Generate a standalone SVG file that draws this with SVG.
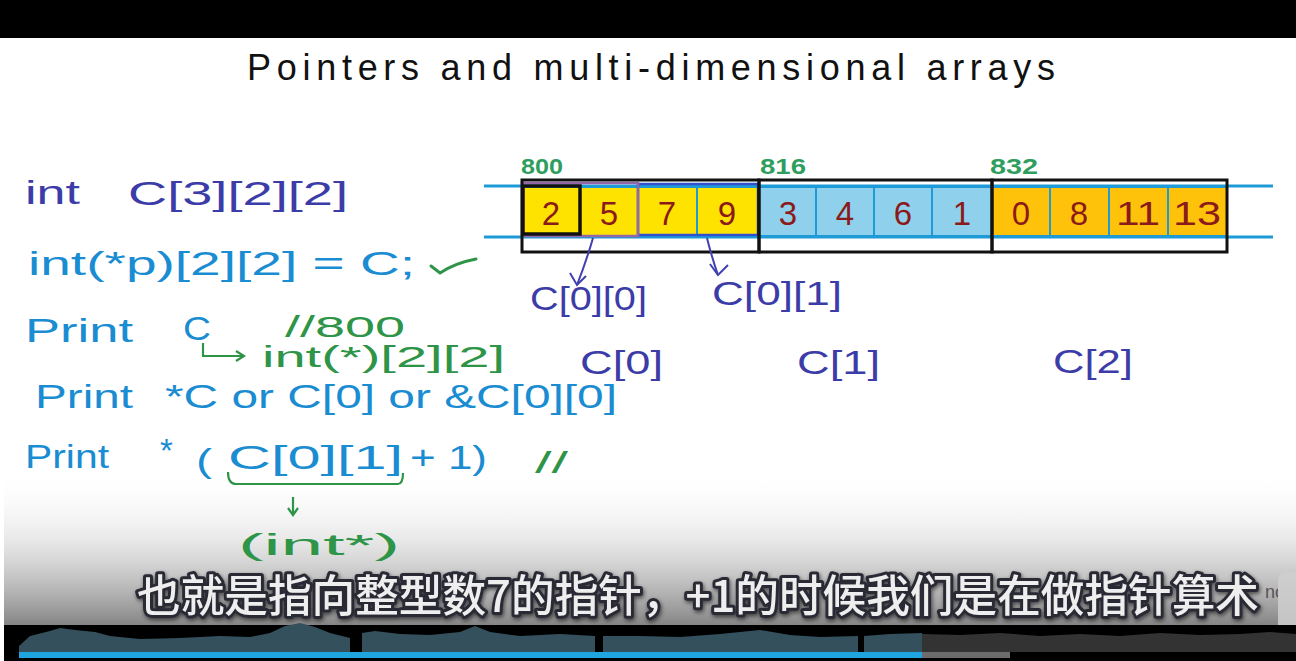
<svg xmlns="http://www.w3.org/2000/svg" width="1296" height="661" viewBox="0 0 1296 661">
<style>
.hw{font-family:"Liberation Sans","DejaVu Sans",sans-serif;}
.ttl{font-size:36px;fill:#111;}
.ind{font-size:33px;fill:#3C3CA8;}
.cy{font-size:33px;fill:#1A8CD2;}
.gr{font-size:30px;fill:#2E9447;}
.addr{font-size:22px;fill:#2E9E5E;font-weight:bold;}
.dig{font-size:33px;fill:#8B1A1A;text-anchor:middle;}
.box{fill:none;stroke:#111;stroke-width:3;}
.bl{stroke:#1E9BD7;stroke-width:3;}
.cellY{fill:#FFE300;stroke:#1E9BD7;stroke-width:2;}
.cellB{fill:#8FD0EC;stroke:#1E9BD7;stroke-width:2;}
.cellO{fill:#FFC20A;stroke:#1E9BD7;stroke-width:2;}
.arrB{fill:none;stroke:#4040B0;stroke-width:2;}
.arrG{fill:none;stroke:#2E9447;stroke-width:2.2;}
.sub{font-family:"Noto Sans CJK SC","Noto Sans",sans-serif;font-size:44px;fill:#EEEEEE;stroke:#2A2A36;stroke-width:6;paint-order:stroke;stroke-linejoin:round;font-weight:500;}
</style>
<defs>
<linearGradient id="fade" x1="0" y1="0" x2="0" y2="1">
<stop offset="0" stop-color="#ffffff" stop-opacity="0"/>
<stop offset="0.45" stop-color="#d9d9d9" stop-opacity="0.6"/>
<stop offset="1" stop-color="#858585"/>
</linearGradient>
<filter id="sh" x="-5%" y="-40%" width="110%" height="180%">
<feDropShadow dx="1" dy="2" stdDeviation="2" flood-color="#000" flood-opacity="0.6"/>
</filter>
<clipPath id="nodclip"><rect x="1250" y="570" width="28" height="40"/></clipPath>
</defs>

<!-- background frame -->
<rect x="0" y="0" width="1296" height="661" fill="#ffffff"/>
<rect x="0" y="0" width="1296" height="38" fill="#000"/>
<rect x="4" y="470" width="1292" height="155" fill="url(#fade)"/>

<!-- title -->
<g id="title">
<text class="hw ttl" x="247" y="80" textLength="808" lengthAdjust="spacing">Pointers and multi-dimensional arrays</text>
</g>

<!-- array -->
<g id="array">
<line class="bl" x1="484" y1="186" x2="1273" y2="186"/>
<line class="bl" x1="484" y1="237" x2="1273" y2="237"/>
<rect class="cellY" x="522" y="187" width="58" height="49"/>
<rect class="cellY" x="580" y="187" width="58" height="49"/>
<rect class="cellY" x="638" y="187" width="59" height="49"/>
<rect class="cellY" x="697" y="187" width="61" height="49"/>
<rect class="cellB" x="759" y="187" width="57" height="49"/>
<rect class="cellB" x="816" y="187" width="58" height="49"/>
<rect class="cellB" x="874" y="187" width="58" height="49"/>
<rect class="cellB" x="932" y="187" width="60" height="49"/>
<rect class="cellO" x="992" y="187" width="58" height="49"/>
<rect class="cellO" x="1050" y="187" width="59" height="49"/>
<rect class="cellO" x="1109" y="187" width="59" height="49"/>
<rect class="cellO" x="1168" y="187" width="59" height="49"/>
<rect x="638" y="184" width="120" height="51" fill="none" stroke="#3050D0" stroke-width="2.5"/>
<rect x="522" y="183" width="116" height="53" fill="none" stroke="#9468A8" stroke-width="2.5"/>
<rect x="523" y="186" width="57" height="48" fill="none" stroke="#111" stroke-width="3.5"/>
<rect class="box" x="522" y="180" width="237" height="72"/>
<rect class="box" x="759" y="180" width="233" height="72"/>
<rect class="box" x="992" y="180" width="235" height="72"/>
<g class="hw dig">
<text x="551" y="225">2</text>
<text x="609" y="225">5</text>
<text x="667" y="225">7</text>
<text x="727" y="225">9</text>
<text x="788" y="225">3</text>
<text x="845" y="225">4</text>
<text x="903" y="225">6</text>
<text x="962" y="225">1</text>
<text x="1021" y="225">0</text>
<text x="1079" y="225">8</text>
<text x="1138" y="225" textLength="44" lengthAdjust="spacingAndGlyphs">11</text>
<text x="1197" y="225" textLength="48" lengthAdjust="spacingAndGlyphs">13</text>
</g>
</g>

<g id="addresses">
<text class="hw addr" x="521" y="174" textLength="42" lengthAdjust="spacingAndGlyphs">800</text>
<text class="hw addr" x="760" y="174" textLength="46" lengthAdjust="spacingAndGlyphs">816</text>
<text class="hw addr" x="990" y="174" textLength="48" lengthAdjust="spacingAndGlyphs">832</text>
</g>

<g id="label-c00">
<text class="hw ind" x="530" y="310" textLength="117" lengthAdjust="spacingAndGlyphs">C[0][0]</text>
</g>
<g id="label-c01">
<text class="hw ind" x="712" y="305" textLength="130" lengthAdjust="spacingAndGlyphs">C[0][1]</text>
</g>
<g id="label-c0">
<text class="hw ind" x="580" y="374" textLength="83" lengthAdjust="spacingAndGlyphs">C[0]</text>
</g>
<g id="label-c1">
<text class="hw ind" x="797" y="374" textLength="83" lengthAdjust="spacingAndGlyphs">C[1]</text>
</g>
<g id="label-c2">
<text class="hw ind" x="1053" y="373" textLength="80" lengthAdjust="spacingAndGlyphs">C[2]</text>
</g>

<!-- code lines -->
<g id="line1">
<text class="hw ind" x="25" y="204" textLength="55" lengthAdjust="spacingAndGlyphs">int</text>
<text class="hw ind" x="128" y="205" textLength="220" lengthAdjust="spacingAndGlyphs">C[3][2][2]</text>
</g>
<g id="line2">
<text class="hw cy" x="28" y="275" textLength="387" lengthAdjust="spacingAndGlyphs">int(*p)[2][2] = C;</text>
<path d="M431,266 L440,273 Q455,263 476,259" fill="none" stroke="#2E9447" stroke-width="3" stroke-linecap="round"/>
</g>
<g id="line3">
<text class="hw cy" x="25" y="342" textLength="108" lengthAdjust="spacingAndGlyphs">Print</text>
<text class="hw cy" x="183" y="340" textLength="28" lengthAdjust="spacingAndGlyphs">C</text>
<text class="hw gr" x="285" y="337" font-size="28" textLength="120" lengthAdjust="spacingAndGlyphs">//800</text>
</g>
<g id="type1">
<text class="hw gr" x="262" y="367" font-size="28" textLength="243" lengthAdjust="spacingAndGlyphs">int(*)[2][2]</text>
</g>
<g id="line4">
<text class="hw cy" x="35" y="408" textLength="98" lengthAdjust="spacingAndGlyphs">Print</text>
<text class="hw cy" x="165" y="408" textLength="452" lengthAdjust="spacingAndGlyphs">*C or C[0] or &amp;C[0][0]</text>
</g>
<g id="line5">
<text class="hw cy" x="25" y="468" textLength="84" lengthAdjust="spacingAndGlyphs">Print</text>
<text class="hw cy" x="160" y="462">*</text>
<text class="hw cy" x="196" y="472" textLength="16" lengthAdjust="spacingAndGlyphs">(</text>
<text class="hw cy" x="228" y="469" textLength="175" lengthAdjust="spacingAndGlyphs">C[0][1]</text>
<text class="hw cy" x="410" y="469" textLength="77" lengthAdjust="spacingAndGlyphs">+ 1)</text>
<text class="hw gr" x="535" y="473" textLength="33" lengthAdjust="spacingAndGlyphs">//</text>
</g>
<g id="type2">
<text class="hw gr" x="238" y="555" textLength="162" lengthAdjust="spacingAndGlyphs">(int*)</text>
</g>

<!-- connectors -->
<g id="connectors">
<path class="arrB" d="M593,238 Q586,262 577,285"/>
<path class="arrB" d="M570,273 L577,285 L586,276"/>
<path class="arrB" d="M707,238 Q712,258 718,275"/>
<path class="arrB" d="M710,264 L718,275 L728,265"/>
<path class="arrG" d="M203,343 L203,356 L243,356"/>
<path class="arrG" d="M236,351 L244,356 L236,361"/>
<path class="arrG" d="M228,472 Q228,484 236,484 L398,484 Q403,484 403,473"/>
<path class="arrG" d="M293,497 L293,514"/>
<path class="arrG" d="M288,508 L293,515 L298,508"/>
</g>

<!-- subtitle -->
<g id="subtitle" filter="url(#sh)">
<text class="sub" x="137" y="612" textLength="1122" lengthAdjust="spacingAndGlyphs">也就是指向整型数7的指针，+1的时候我们是在做指针算术</text>
</g>
<g id="corner">
<text x="1265" y="598" font-family="Liberation Sans,sans-serif" font-size="18" fill="#555" clip-path="url(#nodclip)">nod</text>
<rect x="1278" y="572" width="30" height="62" rx="8" fill="#cfcfcf" fill-opacity="0.85"/>
</g>

<!-- player bar -->
<g id="player">
<rect x="4" y="625" width="1292" height="36" fill="#000"/>
<path d="M19,652 L19,646 L30,636 L50,631 L60,628 L75,630 L95,632 L110,636 L140,639 L180,638 L220,636 L250,637 L270,633 L285,626 L300,623 L315,627 L330,633 L350,638 L350,652 Z" fill="#34505C"/>
<path d="M362,652 L362,633 L375,631 L400,634 L430,635 L460,632 L475,626 L490,632 L520,636 L560,634 L595,636 L595,652 Z" fill="#34505C"/>
<path d="M603,652 L603,636 L640,636 L680,637 L720,634 L760,630 L790,635 L820,637 L858,636 L858,652 Z" fill="#34505C"/>
<path d="M864,652 L864,636 L890,634 L922,633 L922,652 Z" fill="#34505C"/>
<path d="M922,652 L922,634 L960,635 L1000,633 L1040,636 L1080,634 L1120,636 L1160,633 L1200,635 L1240,634 L1270,632 L1296,634 L1296,652 Z" fill="#333"/>
<rect x="19" y="652" width="903" height="6" fill="#1EA5E0"/>
<rect x="922" y="652" width="88" height="6" fill="#6c6c6c"/>
</g>
</svg>
